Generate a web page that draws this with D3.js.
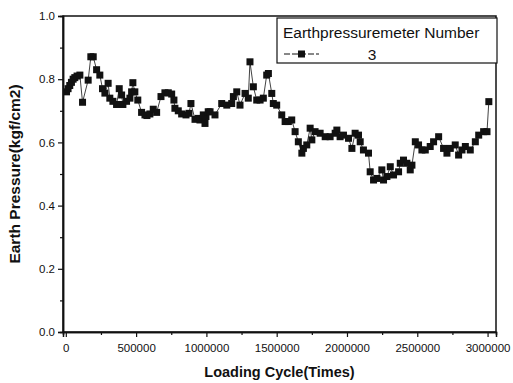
<!DOCTYPE html>
<html>
<head>
<meta charset="utf-8">
<script src="https://cdn.jsdelivr.net/npm/d3@7"></script>
<style>
  body { margin: 0; background: #fff; }
  text { font-family: "Liberation Sans", Arial, sans-serif; fill: #111; }
</style>
</head>
<body>
<div id="chart"></div>
<script>
// loading cycles (times)
const cycles = [
  5000, 16000, 28000, 40000, 52000, 64000, 80000, 100000, 119000, 159000,
  178000, 195000, 219000, 242000, 261000, 278000, 301000, 313000, 335000, 361000,
  380000, 397000, 406000, 432000, 456000, 468000, 477000, 491000, 512000, 539000,
  563000, 577000, 598000, 622000, 646000, 677000, 705000, 729000, 753000, 769000,
  776000, 800000, 824000, 855000, 876000, 890000, 919000, 942000, 954000, 978000,
  990000, 997000, 1013000, 1026000, 1061000, 1109000, 1145000, 1180000, 1192000, 1216000,
  1239000, 1275000, 1298000, 1310000, 1334000, 1358000, 1382000, 1405000, 1429000, 1441000,
  1465000, 1476000, 1500000, 1536000, 1560000, 1583000, 1607000, 1631000, 1654000, 1679000,
  1690000, 1714000, 1738000, 1750000, 1773000, 1809000, 1845000, 1880000, 1916000, 1928000,
  1951000, 1975000, 2011000, 2035000, 2058000, 2082000, 2094000, 2117000, 2153000, 2165000,
  2189000, 2213000, 2248000, 2260000, 2284000, 2308000, 2331000, 2367000, 2379000, 2402000,
  2426000, 2450000, 2462000, 2486000, 2509000, 2533000, 2557000, 2592000, 2616000, 2652000,
  2687000, 2711000, 2735000, 2770000, 2794000, 2818000, 2842000, 2877000, 2913000, 2937000,
  2972000, 2996000, 3009000
];

// earth pressure, meter no. 3 (kgf/cm2)
const pressure = [
  0.76, 0.77, 0.78, 0.79, 0.80, 0.805, 0.81, 0.813, 0.727, 0.797,
  0.871, 0.871, 0.83, 0.813, 0.77, 0.756, 0.787, 0.74, 0.73, 0.72,
  0.77, 0.75, 0.72, 0.73, 0.74, 0.76, 0.789, 0.76, 0.734, 0.695,
  0.687, 0.685, 0.69, 0.705, 0.695, 0.745, 0.757, 0.757, 0.753, 0.734,
  0.708, 0.70, 0.69, 0.687, 0.692, 0.723, 0.673, 0.676, 0.671, 0.687,
  0.66, 0.682, 0.697, 0.697, 0.687, 0.723, 0.718, 0.723, 0.745, 0.76,
  0.718, 0.755, 0.74, 0.855, 0.776, 0.734, 0.734, 0.74, 0.813, 0.818,
  0.755, 0.723, 0.718, 0.687, 0.666, 0.666, 0.671, 0.634, 0.602, 0.566,
  0.581, 0.592, 0.645, 0.608, 0.634, 0.629, 0.618, 0.618, 0.629, 0.639,
  0.618, 0.623, 0.613, 0.581, 0.629, 0.623, 0.602, 0.576, 0.566, 0.507,
  0.481, 0.486, 0.513, 0.481, 0.492, 0.523, 0.497, 0.507, 0.534, 0.544,
  0.534, 0.513, 0.528, 0.602, 0.592, 0.576, 0.576, 0.587, 0.602, 0.618,
  0.581, 0.566, 0.581, 0.592, 0.56, 0.576, 0.587, 0.576, 0.602, 0.623,
  0.634, 0.634, 0.729
];

const xTicks = [0, 500000, 1000000, 1500000, 2000000, 2500000, 3000000];
const xMinor = [250000, 750000, 1250000, 1750000, 2250000, 2750000];
const yTicks = [0.0, 0.2, 0.4, 0.6, 0.8, 1.0];
const yMinor = [0.1, 0.3, 0.5, 0.7, 0.9];

const legendTitle = 'Earthpressuremeter Number';
const seriesName = '3';

const width = 513;
const height = 383;
const margin = { left: 63, top: 16, right: 17, bottom: 51 };

const svg = d3.select('#chart')
  .append('svg')
  .attr('width', width)
  .attr('height', height);

const x = d3.scaleLinear()
  .domain([-20000, 3060000])
  .range([margin.left, width - margin.right]);

const y = d3.scaleLinear()
  .domain([0, 1])
  .range([height - margin.bottom, margin.top]);

// frame
svg.append('rect')
  .attr('x', margin.left)
  .attr('y', margin.top)
  .attr('width', width - margin.left - margin.right)
  .attr('height', height - margin.top - margin.bottom)
  .attr('fill', 'none')
  .attr('stroke', '#111')
  .attr('stroke-width', 1.5);

// x axis
svg.append('g')
  .attr('transform', `translate(0, ${y(0)})`)
  .call(d3.axisBottom(x).tickValues(xTicks).tickFormat(d3.format('d')).tickSize(5).tickPadding(7));
svg.append('g')
  .attr('transform', `translate(0, ${y(0)})`)
  .call(d3.axisBottom(x).tickValues(xMinor).tickFormat('').tickSize(3));

// y axis
svg.append('g')
  .attr('transform', `translate(${margin.left}, 0)`)
  .call(d3.axisLeft(y).tickValues(yTicks).tickFormat(d3.format('.1f')).tickSize(5).tickPadding(3));
svg.append('g')
  .attr('transform', `translate(${margin.left}, 0)`)
  .call(d3.axisLeft(y).tickValues(yMinor).tickFormat('').tickSize(3));

svg.selectAll('.domain').attr('stroke', '#111').attr('stroke-width', 1.5);
svg.selectAll('.tick line').attr('stroke', '#111').attr('stroke-width', 1.2);
svg.selectAll('.tick text')
  .attr('font-size', 11.5)
  .attr('font-family', '"Liberation Sans", Arial, sans-serif')
  .attr('fill', '#111');

// axis titles
svg.append('text')
  .attr('x', (margin.left + width - margin.right) / 2)
  .attr('y', 377)
  .attr('text-anchor', 'middle')
  .attr('font-size', 14.5)
  .attr('font-weight', 'bold')
  .text('Loading Cycle(Times)');

svg.append('text')
  .attr('transform', `translate(20, ${(margin.top + height - margin.bottom) / 2}) rotate(-90)`)
  .attr('text-anchor', 'middle')
  .attr('font-size', 15.5)
  .attr('font-weight', 'bold')
  .text('Earth Pressure(kgf/cm2)');

// data line + markers
const data = cycles.map((c, i) => ({ c: c, p: pressure[i] }));

const line = d3.line()
  .x(d => x(d.c))
  .y(d => y(d.p));

svg.append('path')
  .datum(data)
  .attr('d', line)
  .attr('fill', 'none')
  .attr('stroke', '#111')
  .attr('stroke-width', 0.8);

svg.selectAll('rect.pt')
  .data(data)
  .enter().append('rect')
  .attr('class', 'pt')
  .attr('x', d => x(d.c) - 3.5)
  .attr('y', d => y(d.p) - 3.5)
  .attr('width', 7)
  .attr('height', 7)
  .attr('fill', '#111');

// legend
const lg = svg.append('g').attr('transform', 'translate(277, 18)');
lg.append('rect')
  .attr('width', 220)
  .attr('height', 45)
  .attr('fill', '#fff')
  .attr('stroke', '#111')
  .attr('stroke-width', 1.2);
lg.append('text')
  .attr('x', 6)
  .attr('y', 20)
  .attr('font-size', 15.5)
  .text(legendTitle);
lg.append('line')
  .attr('x1', 7).attr('x2', 42)
  .attr('y1', 36).attr('y2', 36)
  .attr('stroke', '#111')
  .attr('stroke-width', 1)
  .attr('stroke-dasharray', '6,2');
lg.append('rect')
  .attr('x', 21).attr('y', 32.5)
  .attr('width', 7).attr('height', 7)
  .attr('fill', '#111');
lg.append('text')
  .attr('x', 95)
  .attr('y', 42)
  .attr('text-anchor', 'middle')
  .attr('font-size', 15.5)
  .text(seriesName);
</script>
</body>
</html>
